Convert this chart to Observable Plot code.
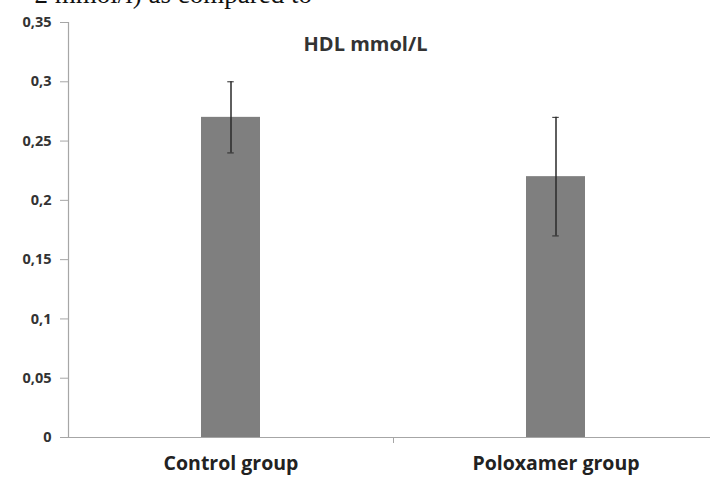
<!DOCTYPE html>
<html>
<head>
<meta charset="utf-8">
<script src="https://cdn.jsdelivr.net/npm/d3@7"></script>
<script src="https://cdn.jsdelivr.net/npm/@observablehq/plot@0.6"></script>
<style>
  html, body { margin: 0; padding: 0; background: #fff; overflow: hidden; width: 710px; height: 477px; }
  #wrap { position: relative; width: 710px; height: 477px; overflow: hidden; }
  #clip { position: absolute; right: 398px; top: -19px; font-family: "Liberation Serif", "Times New Roman", serif; font-size: 27px; line-height: 1; color: #111; white-space: nowrap; }
  #chart { position: absolute; left: 0; top: 0; }
</style>
</head>
<body>
<div id="wrap">
  <div id="chart"></div>
  <div id="clip">2 mmol/l) as compared to</div>
</div>
<script>
const categories = ["Control group", "Poloxamer group"];
const means = [0.27, 0.22];
const lows = [0.24, 0.17];
const highs = [0.30, 0.27];
const yTicks = [0, 0.05, 0.1, 0.15, 0.2, 0.25, 0.3, 0.35];
const title = "HDL mmol/L";

const data = categories.map((c, i) => ({group: c, mean: means[i], low: lows[i], high: highs[i]}));

const W = 710, H = 477, mTop = 22, mBottom = 40, mLeft = 68;
const xRange = [68, 718];
const padIn = 0.82, padOut = 0.41;
const step = (xRange[1] - xRange[0]) / (categories.length - padIn + 2 * padOut);
const bandW = step * (1 - padIn);
const yMax = 0.35;
const pxPerUnit = (H - mTop - mBottom) / yMax;
const tickLen = 6;
const capW = 6;

const chart = Plot.plot({
  width: W,
  height: H,
  marginTop: mTop,
  marginBottom: mBottom,
  marginLeft: mLeft,
  marginRight: 0,
  style: {fontFamily: "'Open Sans', sans-serif", fontWeight: "bold", background: "white", color: "#333"},
  x: {domain: categories, range: xRange, paddingInner: padIn, paddingOuter: padOut, align: 0.5},
  y: {domain: [0, yMax]},
  marks: [
    Plot.barY(data, {x: "group", y: "mean", fill: "#7f7f7f"}),
    Plot.ruleX(data, {x: "group", y1: "low", y2: "high", stroke: "#2a2a2a", strokeWidth: 1.5}),
    Plot.tickY(data, {x: "group", y: "low", stroke: "#2a2a2a", strokeWidth: 1, insetLeft: (bandW - capW) / 2, insetRight: (bandW - capW) / 2}),
    Plot.tickY(data, {x: "group", y: "high", stroke: "#2a2a2a", strokeWidth: 1, insetLeft: (bandW - capW) / 2, insetRight: (bandW - capW) / 2}),
    Plot.frame({anchor: "left", stroke: "#a6a6a6", strokeWidth: 1.2}),
    Plot.ruleY([0], {stroke: "#a6a6a6", strokeWidth: 1.2}),
    Plot.ruleX(categories.slice(0, 1), {x: d => d, dx: step / 2, y1: 0, y2: -tickLen / pxPerUnit, stroke: "#a6a6a6", strokeWidth: 1}),
    Plot.axisY({
      ticks: yTicks,
      tickFormat: d => String(d).replace(".", ","),
      tickSize: 8,
      tickPadding: 9,
      stroke: "#a6a6a6",
      fontSize: 14.5,
      fontWeight: "bold",
      fill: "#333",
      label: null
    }),
    Plot.axisX({
      tickSize: 0,
      tickPadding: 19,
      fontSize: 19.5,
      fontWeight: "bold",
      fill: "#222",
      label: null
    }),
    Plot.text([title], {frameAnchor: "top", lineAnchor: "middle", dx: -24, dy: 22, fontSize: 20, fontWeight: "bold", fill: "#333"})
  ]
});
document.getElementById("chart").appendChild(chart);
</script>
</body>
</html>
